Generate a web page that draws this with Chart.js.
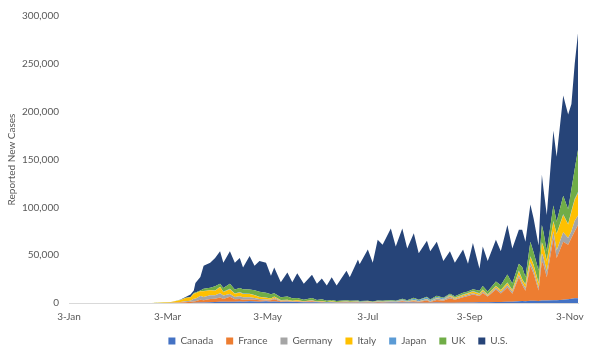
<!DOCTYPE html>
<html>
<head>
<meta charset="utf-8">
<script src="https://cdn.jsdelivr.net/npm/chart.js@4/dist/chart.umd.min.js"></script>
<style>
  html, body { margin: 0; padding: 0; background: #ffffff; }
  #wrap { width: 600px; height: 356px; position: relative; }
</style>
</head>
<body>
<div id="wrap"><canvas id="c" width="600" height="356"></canvas></div>
<script>
// Day offsets counted from 3-Jan-2020
const days    = [0, 50, 58, 62, 66, 68, 71, 74, 76, 77, 80, 82, 86, 89, 92, 94, 98, 101, 104, 106, 110, 113, 116, 120, 123, 125, 129, 133, 136, 139, 143, 148, 151, 154, 157, 160, 163, 169, 171, 176, 177, 182, 185, 188, 191, 196, 199, 203, 206, 210, 213, 218, 220, 224, 228, 232, 235, 240, 243, 246, 250, 252, 255, 260, 263, 267, 270, 274, 276, 278, 281, 283, 286, 288, 289, 291, 295, 297, 301, 304, 306, 308, 310];
const canada  = [0, 0, 0, 5, 10, 20, 50, 100, 200, 250, 400, 600, 800, 1000, 1200, 1300, 1400, 1200, 1500, 1400, 1800, 1600, 1400, 1700, 1300, 1500, 1100, 1200, 1100, 1000, 900, 800, 700, 600, 450, 400, 350, 350, 300, 300, 250, 250, 250, 300, 300, 400, 400, 500, 400, 450, 350, 350, 300, 400, 300, 350, 300, 400, 400, 500, 700, 700, 700, 1000, 1000, 1300, 1200, 1800, 2000, 1800, 2300, 2400, 2000, 2500, 2700, 2500, 3000, 3000, 3500, 4000, 4500, 5000, 5000];
const france  = [0, 0, 30, 100, 300, 500, 800, 1100, 1400, 1600, 3000, 2400, 3500, 3500, 4500, 2800, 5100, 2700, 2600, 2000, 1800, 1800, 1600, 1000, 1500, 2500, 500, 500, 300, 500, 300, 1000, 300, 600, 200, 500, 200, 500, 300, 600, 400, 600, 300, 700, 500, 700, 400, 1200, 600, 1300, 700, 2300, 800, 2800, 2000, 4500, 3000, 5500, 7000, 8500, 6500, 9800, 6000, 13000, 9000, 15000, 8500, 25000, 17000, 11000, 36500, 28000, 11000, 41500, 37300, 24500, 65000, 44000, 60500, 57000, 63500, 70000, 76600];
const germany = [0, 0, 50, 120, 300, 400, 900, 1200, 2800, 2500, 4000, 3400, 3700, 3500, 4500, 3800, 3000, 2500, 3000, 2500, 2300, 1800, 1300, 900, 700, 1200, 700, 900, 500, 700, 300, 700, 300, 400, 200, 500, 200, 600, 500, 500, 300, 400, 300, 400, 200, 500, 300, 800, 400, 900, 500, 1100, 500, 1400, 1000, 1900, 1000, 1100, 1300, 1300, 1000, 1500, 1000, 2000, 1800, 2500, 2000, 2500, 2600, 2700, 3700, 3500, 3000, 8000, 7500, 6000, 7000, 8000, 10000, 7000, 7000, 11000, 9900];
const italy   = [0, 0, 560, 770, 1800, 2300, 3500, 3500, 5300, 5900, 4800, 6000, 5200, 4800, 6400, 3600, 5000, 3200, 3800, 3500, 3400, 2800, 2100, 1900, 1100, 1400, 700, 800, 450, 650, 300, 400, 300, 500, 200, 300, 300, 250, 200, 200, 170, 200, 200, 230, 200, 230, 200, 300, 200, 380, 200, 500, 300, 600, 400, 1000, 900, 1400, 1300, 1700, 1400, 1600, 1000, 1600, 1400, 2000, 1600, 4000, 3000, 3500, 5700, 5500, 4500, 11000, 10900, 11000, 10000, 17000, 18000, 14000, 20500, 22000, 23500];
const japan   = [0, 0, 10, 30, 30, 50, 40, 40, 40, 50, 40, 100, 100, 200, 300, 250, 500, 300, 600, 550, 400, 350, 250, 300, 100, 100, 50, 50, 30, 30, 20, 40, 40, 50, 40, 40, 50, 70, 60, 100, 100, 250, 120, 350, 400, 600, 500, 900, 600, 1500, 1000, 1400, 900, 1200, 900, 800, 600, 500, 500, 500, 500, 600, 400, 500, 500, 600, 500, 600, 500, 500, 700, 400, 300, 600, 400, 500, 700, 500, 800, 600, 900, 1100, 1000];
const uk      = [0, 0, 10, 50, 60, 80, 200, 400, 650, 700, 900, 2500, 2700, 4500, 3300, 4000, 5200, 4300, 4100, 4500, 4400, 4900, 5000, 4800, 4400, 3600, 3000, 3300, 2700, 2400, 1700, 2400, 1600, 1800, 1200, 1300, 1000, 1200, 900, 900, 800, 600, 500, 600, 700, 700, 600, 800, 700, 900, 700, 800, 800, 1100, 800, 1000, 1200, 1700, 1400, 1800, 2600, 3500, 3000, 4300, 4900, 8500, 6500, 7000, 12500, 7500, 15000, 13000, 13200, 18000, 15200, 9500, 16300, 12500, 19200, 15400, 22600, 31000, 44000];
const us      = [0, 0, 10, 50, 200, 300, 900, 2500, 2800, 10000, 14000, 24000, 26000, 29500, 33800, 26250, 33800, 27800, 31400, 22550, 34900, 25750, 32350, 31400, 19500, 26700, 15650, 25250, 16620, 25720, 16480, 24260, 16760, 21550, 16110, 23960, 16300, 30730, 24740, 43000, 38580, 53700, 40330, 63420, 58700, 74870, 56600, 73500, 54100, 67570, 48550, 58550, 50400, 56500, 38600, 44450, 35000, 45400, 29100, 48300, 23000, 41300, 31900, 43600, 35400, 51700, 36700, 35600, 38900, 37000, 39100, 35200, 26000, 52400, 45000, 38000, 78000, 68000, 105000, 99000, 89000, 110000, 122000];

const seriesNames  = ['Canada', 'France', 'Germany', 'Italy', 'Japan', 'UK', 'U.S.'];
const seriesValues = [canada, france, germany, italy, japan, uk, us];
const seriesColors = ['#4472C4', '#ED7D31', '#A5A5A5', '#FFC000', '#5B9BD5', '#70AD47', '#264478'];

const tickDays   = [0, 60, 121, 182, 244, 305];
const tickLabels = ['3-Jan', '3-Mar', '3-May', '3-Jul', '3-Sep', '3-Nov'];

const FONT = 'Lato, "Open Sans", "Liberation Sans", sans-serif';
const GREY = '#595959';

const datasets = seriesNames.map((name, i) => ({
  label: name,
  data: days.map((d, k) => ({ x: d, y: seriesValues[i][k] })),
  backgroundColor: seriesColors[i],
  borderColor: seriesColors[i],
  borderWidth: 0,
  pointRadius: 0,
  pointHoverRadius: 0,
  tension: 0,
  fill: i === 0 ? 'origin' : '-1'
}));

const shiftLegend = {
  id: 'shiftLegend',
  afterLayout(chart) {
    if (chart.legend) {
      chart.legend.left += 49;
      chart.legend.right += 49;
    }
  }
};

new Chart(document.getElementById('c'), {
  type: 'line',
  data: { datasets },
  plugins: [shiftLegend],
  options: {
    responsive: false,
    animation: false,
    events: [],
    layout: { padding: { top: 3, right: 22, left: 0, bottom: 0 } },
    plugins: {
      tooltip: { enabled: false },
      legend: {
        position: 'bottom',
        labels: {
          boxWidth: 7,
          boxHeight: 7,
          padding: 13,
          color: GREY,
          font: { family: FONT, size: 10 }
        }
      }
    },
    scales: {
      x: {
        type: 'linear',
        min: 0,
        max: 310,
        grid: { display: true, color: 'rgba(0,0,0,0)', drawTicks: false },
        border: { display: true, color: '#D9D9D9', width: 1 },
        afterBuildTicks: (scale) => { scale.ticks = tickDays.map(v => ({ value: v })); },
        afterFit: (scale) => { scale.height = 20; },
        ticks: {
          autoSkip: false,
          maxRotation: 0,
          padding: 8,
          color: GREY,
          font: { family: FONT, size: 10 },
          callback: (value) => {
            const idx = tickDays.indexOf(value);
            return idx >= 0 ? tickLabels[idx] : '';
          }
        }
      },
      y: {
        stacked: true,
        min: 0,
        max: 300000,
        grid: { display: false, drawTicks: false },
        border: { display: false },
        afterFit: (scale) => { scale.width = 69; },
        title: {
          display: true,
          text: 'Reported New Cases',
          color: GREY,
          font: { family: FONT, size: 10 },
          padding: { top: 6, bottom: 0 }
        },
        ticks: {
          stepSize: 50000,
          padding: 10,
          color: GREY,
          font: { family: FONT, size: 10 },
          callback: (v) => v.toLocaleString('en-US')
        }
      }
    }
  }
});
</script>
</body>
</html>
